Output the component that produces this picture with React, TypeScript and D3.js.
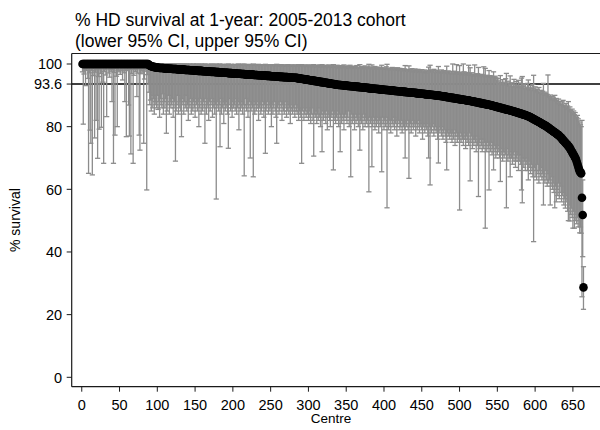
import React from "react";
import * as d3 from "d3";

// Chart text
const TITLE_LINES = ["% HD survival at 1-year: 2005-2013 cohort", "(lower 95% CI, upper 95% CI)"];
const Y_LABEL = "% survival";
const X_LABEL = "Centre";
const X_TICKS = [0, 50, 100, 150, 200, 250, 300, 350, 400, 450, 500, 550, 600, 650];
const Y_TICKS = [0, 20, 40, 60, 80, 100];
const NATIONAL_AVERAGE = 93.6;

// 1-year survival (%) for each centre, ranked from highest to lowest
const SURVIVAL = [
  100, 100, 100, 100, 100, 100, 100, 100, 100, 100, 100,
  100, 100, 100, 100, 100, 100, 100, 100, 100, 100, 100,
  100, 100, 100, 100, 100, 100, 100, 100, 100, 100, 100,
  100, 100, 100, 100, 100, 100, 100, 100, 100, 100, 100,
  100, 100, 100, 100, 100, 100, 100, 100, 100, 100, 100,
  100, 100, 100, 100, 100, 100, 100, 100, 100, 100, 100,
  100, 100, 100, 100, 100, 100, 100, 100, 100, 100, 100,
  100, 100, 100, 100, 100, 100, 100, 100, 100, 100, 100,
  99.7, 99.5, 99.4, 99.3, 99.2, 99.1, 99.1, 99.0, 99.0, 98.9, 98.9, 98.9, 98.8, 98.8,
  98.7, 98.7, 98.7, 98.7, 98.7, 98.7,
  98.6, 98.6, 98.6, 98.6, 98.6,
  98.5, 98.5, 98.5, 98.5, 98.5, 98.5,
  98.4, 98.4, 98.4, 98.4, 98.4, 98.4,
  98.3, 98.3, 98.3, 98.3, 98.3,
  98.2, 98.2, 98.2, 98.2, 98.2, 98.2,
  98.1, 98.1, 98.1, 98.1, 98.1, 98.1,
  98.0, 98.0, 98.0, 98.0, 98.0,
  97.9, 97.9, 97.9, 97.9, 97.9, 97.9,
  97.8, 97.8, 97.8, 97.8, 97.8, 97.8,
  97.7, 97.7, 97.7, 97.7, 97.7,
  97.6, 97.6, 97.6, 97.6, 97.6, 97.6,
  97.5, 97.5, 97.5, 97.5, 97.5, 97.5,
  97.4, 97.4, 97.4, 97.4, 97.4,
  97.3, 97.3, 97.3, 97.3, 97.3, 97.3,
  97.2, 97.2, 97.2, 97.2, 97.2, 97.2,
  97.1, 97.1, 97.1, 97.1, 97.1,
  97.0, 97.0, 97.0, 97.0, 97.0, 97.0,
  96.9, 96.9, 96.9, 96.9, 96.9, 96.9,
  96.8, 96.8, 96.8, 96.8, 96.8,
  96.7, 96.7, 96.7, 96.7, 96.7, 96.7,
  96.6, 96.6, 96.6, 96.6, 96.6, 96.6,
  96.5, 96.5, 96.5, 96.5, 96.5,
  96.4, 96.4, 96.4, 96.4, 96.4, 96.4,
  96.3, 96.3, 96.3, 96.3, 96.3, 96.3,
  96.2, 96.2, 96.2, 96.2, 96.2,
  96.1, 96.1, 96.1, 96.1, 96.1, 96.1,
  96.0, 96.0, 96.0, 96.0, 96.0, 96.0,
  95.9, 95.9, 95.9, 95.9, 95.9,
  95.8, 95.8, 95.8, 95.8, 95.8, 95.8,
  95.7, 95.7, 95.7, 95.7, 95.7, 95.7,
  95.6, 95.6, 95.6, 95.6, 95.6, 95.6,
  95.5, 95.5, 95.4, 95.4, 95.4, 95.3, 95.3, 95.2, 95.2, 95.2, 95.1, 95.1,
  95.0, 95.0, 95.0, 94.9, 94.9, 94.8, 94.8, 94.8, 94.7, 94.7, 94.6, 94.6, 94.6,
  94.5, 94.5, 94.4, 94.4, 94.4, 94.3, 94.3, 94.2, 94.2, 94.2, 94.1, 94.1,
  94.0, 94.0, 94.0, 93.9, 93.9, 93.8, 93.8, 93.8, 93.7, 93.7, 93.6, 93.6, 93.6,
  93.5, 93.5, 93.4, 93.4, 93.4,
  93.3, 93.3, 93.3, 93.3, 93.2, 93.2, 93.2, 93.2, 93.1, 93.1, 93.1, 93.1,
  93.0, 93.0, 93.0, 93.0, 92.9, 92.9, 92.9, 92.9, 92.8, 92.8, 92.8, 92.8,
  92.7, 92.7, 92.7, 92.7, 92.6, 92.6, 92.6, 92.6, 92.5, 92.5, 92.5, 92.5,
  92.4, 92.4, 92.4, 92.3, 92.3, 92.3,
  92.2, 92.2, 92.2, 92.2, 92.1, 92.1, 92.1, 92.1, 92.0, 92.0, 92.0, 92.0,
  91.9, 91.9, 91.9, 91.9, 91.8, 91.8, 91.8, 91.8, 91.7, 91.7, 91.7, 91.7,
  91.6, 91.6, 91.6, 91.6, 91.5, 91.5, 91.5, 91.5, 91.4, 91.4, 91.4, 91.4,
  91.3, 91.3, 91.3, 91.3, 91.2, 91.2, 91.2, 91.2, 91.1, 91.1, 91.1, 91.1,
  91.0, 91.0, 91.0, 91.0,
  90.9, 90.9, 90.9, 90.9, 90.8, 90.8, 90.8, 90.8, 90.7, 90.7, 90.7,
  90.6, 90.6, 90.6, 90.6, 90.5, 90.5, 90.5, 90.5, 90.4, 90.4, 90.4,
  90.3, 90.3, 90.3, 90.3, 90.2, 90.2, 90.2, 90.2, 90.1, 90.1, 90.1,
  90.0, 90.0, 90.0, 90.0, 89.9, 89.9, 89.9,
  89.8, 89.8, 89.8, 89.7, 89.7, 89.6, 89.6, 89.6, 89.5, 89.5,
  89.4, 89.4, 89.4, 89.3, 89.3, 89.2, 89.2, 89.2, 89.1, 89.1,
  89.0, 89.0, 89.0, 88.9, 88.9, 88.8, 88.8, 88.8, 88.7, 88.7,
  88.6, 88.6, 88.6, 88.5, 88.5, 88.4, 88.4, 88.4, 88.3, 88.3,
  88.2, 88.2, 88.1, 88.1, 88.0, 88.0, 87.9, 87.9, 87.8, 87.8, 87.7, 87.7, 87.6,
  87.6, 87.5, 87.5, 87.4, 87.4, 87.3, 87.3, 87.2, 87.2, 87.1, 87.1, 87.0, 87.0,
  86.9, 86.9, 86.8, 86.7, 86.7, 86.6, 86.5, 86.5, 86.4, 86.3, 86.3, 86.2, 86.1, 86.1,
  86.0, 86.0, 85.9, 85.8, 85.8, 85.7, 85.6, 85.6, 85.5, 85.4, 85.4, 85.3, 85.3,
  85.2, 85.1, 85.1, 85.0, 84.9, 84.8, 84.8, 84.7, 84.6, 84.5, 84.5, 84.4, 84.3,
  84.2, 84.2, 84.1, 84.0, 83.9, 83.8, 83.8, 83.7, 83.6, 83.5, 83.4, 83.3, 83.2,
  83.1, 83.0, 82.8, 82.7, 82.6, 82.4, 82.3, 82.2, 82.0, 81.9, 81.8,
  81.6, 81.5, 81.4, 81.2, 81.1, 80.9, 80.8, 80.7, 80.5, 80.4, 80.3,
  80.1, 79.9, 79.7, 79.6, 79.4, 79.2, 79.0, 78.9, 78.7,
  78.5, 78.3, 78.2, 78.0, 77.8, 77.6, 77.5, 77.3, 77.1,
  76.8, 76.6, 76.3, 76.0, 75.7, 75.5, 75.2, 74.9, 74.6, 74.4, 74.1, 73.8, 73.6,
  73.1, 72.7, 72.3, 71.8, 71.4, 71.0, 70.6, 70.1, 69.7,
  68.9, 68.1, 67.3, 66.5, 65.8, 65.4,
  65.1, 57.3, 51.8, 28.7,
];

// Lower 95% confidence limit for each centre (same order)
const LOWER = [
  97.5, 80.8, 96.8, 98.2, 93.1, 97.9, 98.5, 95.4, 65.1, 97.2,
  78.9, 74.7, 98.0, 64.6, 96.3, 98.6, 76.4, 97.4, 82.0, 98.1,
  69.9, 96.0, 79.2, 98.4, 97.0, 79.8, 98.8, 94.2, 68.3, 97.6,
  98.3, 96.5, 83.2, 98.7, 97.1, 98.9, 95.8, 98.2, 97.7, 88.0,
  98.5, 68.3, 97.3, 77.3, 98.6, 96.1, 80.0, 98.0, 97.5, 98.9,
  96.7, 98.4, 97.8, 94.9, 98.6, 97.2, 88.0, 98.1, 76.8, 97.9,
  98.5, 86.9, 77.0, 98.3, 71.3, 97.0, 98.7, 68.3, 96.4, 98.2,
  97.6, 98.8, 89.6, 97.1, 98.4, 77.3, 72.5, 96.9, 98.0, 97.4,
  98.6, 74.7, 95.2, 98.3, 97.7, 59.8, 96.6, 93.5,
  91, 87, 88.5, 85, 90, 86, 89, 84, 88, 87,
  86, 90, 85.5, 88, 83, 89, 87, 86, 90.5, 84,
  88, 86, 89, 77.9, 85, 87, 90, 84, 88, 86,
  87, 89, 83, 86, 88, 69, 85, 87, 90, 84,
  86, 88, 85, 76.8, 89, 87, 84, 88, 86, 90,
  85, 87, 82, 88, 86, 89, 84, 87, 85, 88,
  86, 83, 89, 87, 85, 88, 80, 86, 89, 84,
  87, 85, 88, 86, 74.7, 89, 84, 87, 86, 82,
  88, 85, 87, 89, 83, 86, 88, 84, 87, 56.9,
  86, 88, 85, 87, 73.6, 89, 84, 86, 88, 81,
  87, 85, 88, 86, 84, 73.1, 87, 89, 85, 86,
  83, 88, 86, 87, 85, 89, 84, 86, 88, 79,
  87, 85, 86, 88, 84, 87, 64.3, 86, 89, 85,
  87, 83, 86, 88, 70, 85, 87, 86, 64, 88,
  84, 87, 85, 86, 88, 82, 86, 87, 84, 85,
  88, 86, 83, 87, 71.5, 85, 86, 88, 84, 87,
  85, 86, 80, 87, 84, 86, 88, 85, 83, 74.7,
  86, 87, 84, 85, 88, 86, 82, 87, 85, 84,
  86, 88, 83, 85, 87, 84, 86, 81, 85, 87,
  84, 86, 85, 83, 87, 85, 84, 86, 82, 85,
  84, 83, 68.3, 85, 86, 82, 84, 85, 83, 86,
  84, 82, 85, 83, 81, 84, 86, 82, 70.6, 84,
  83, 85, 81, 84, 82, 86, 83, 80, 84, 72,
  85, 82, 84, 83, 81, 85, 79, 83, 84, 82,
  80, 84, 83, 85, 66.2, 82, 84, 81, 83, 85,
  82, 80, 84, 72, 83, 81, 84, 82, 79, 83,
  84, 82, 81, 83, 85, 80, 82, 64, 84, 81,
  83, 82, 79, 84, 81, 83, 82, 80, 84, 72.5,
  82, 81, 83, 79, 84, 82, 80, 83, 81, 82,
  80, 59.2, 83, 81, 82, 67.2, 80, 83, 81, 79,
  82, 80, 83, 81, 78, 82, 80, 81, 65.6, 83,
  81, 79, 82, 80, 83, 54.1, 81, 79, 82, 80,
  78, 82, 81, 80, 83, 79, 81, 82, 77, 80,
  82, 81, 79, 80, 82, 78, 81, 80, 79, 70,
  81, 80, 82, 79, 63.5, 80, 81, 78, 80, 82,
  79, 81, 80, 77, 81, 79, 80, 82, 78, 80,
  81, 79, 76, 80, 81, 78, 80, 79, 81, 77,
  70, 80, 61.4, 79, 78, 80, 81, 77, 79, 80,
  78, 79, 76, 68.4, 80, 78, 79, 77, 80, 76,
  78, 79, 77, 75, 66.2, 78, 77, 79, 76, 78,
  77, 75, 78, 76, 79, 74, 77, 78, 75, 77,
  76, 53.4, 78, 75, 77, 76, 74, 78, 76, 73,
  77, 75, 76, 74, 78, 62.7, 75, 77, 73, 76,
  74, 76, 75, 72, 77, 74, 57.7, 75, 73, 76,
  74, 72, 76, 73, 75, 47.6, 74, 72, 75, 73,
  59.8, 74, 72, 75, 71, 73, 66.2, 74, 72, 70,
  73, 71, 74, 72, 70, 62.5, 73, 71, 69, 72,
  70, 72, 71, 54.1, 73, 69, 71, 70, 64, 72,
  70, 68, 71, 69, 72, 67, 70, 69, 71, 66,
  69, 71, 68, 59.8, 55.7, 70, 67, 69, 66, 70,
  68, 66, 63, 69, 67, 65, 68, 66, 64, 43.3,
  67, 64, 66, 63, 68, 65, 62, 66, 64, 67,
  63, 65, 55, 64, 62, 66, 63, 61, 65, 62,
  63, 55, 61, 64, 60, 62, 59, 54.1, 61, 56,
  60, 58, 62, 57, 59, 61, 56, 58, 59, 55,
  57, 54, 58, 56, 53, 50, 55, 49.9, 52, 54,
  51, 47.6, 53, 47.6, 50, 52, 49, 51, 48, 50,
  46.1, 48, 46, 25.7, 38.5, 21.7,
];

// Upper 95% confidence limit for each centre (same order)
const UPPER = [
  100, 100, 100, 100, 100, 100, 100, 100, 100, 100, 100,
  100, 100, 100, 100, 100, 100, 100, 100, 100, 100, 100,
  100, 100, 100, 100, 100, 100, 100, 100, 100, 100, 100,
  100, 100, 100, 100, 100, 100, 100, 100, 100, 100, 100,
  100, 100, 100, 100, 100, 100, 100, 100, 100, 100, 100,
  100, 100, 100, 100, 100, 100, 100, 100, 100, 100, 100,
  100, 100, 100, 100, 100, 100, 100, 100, 100, 100, 100,
  100, 100, 100, 100, 100, 100, 100, 100, 100, 100, 100,
  100, 100, 100, 100, 99.9, 100, 100, 99.9, 100, 100,
  100, 99.9, 100, 100, 99.8, 100, 100, 99.9, 100, 99.8,
  100, 99.9, 100, 99.8, 100, 99.9, 100, 99.7, 99.9, 100,
  99.8, 100, 99.9, 100, 99.7, 99.9, 100, 99.8, 99.9, 100,
  99.9, 100, 99.7, 99.9, 100, 99.8, 99.9, 100, 99.7, 99.9,
  100, 99.8, 99.9, 99.7, 100, 99.9, 99.8, 99.6, 99.9, 100,
  99.8, 99.9, 99.7, 100, 99.8, 99.9, 99.6, 99.9, 99.8, 100,
  99.7, 99.9, 99.8, 99.6, 100, 99.9, 99.7, 99.8, 99.9, 99.6,
  99.8, 99.9, 99.7, 100, 99.6, 99.8, 99.9, 99.7, 99.8, 100,
  99.7, 99.8, 99.6, 99.9, 100, 99.7, 99.8, 99.6, 99.9, 99.7,
  99.8, 99.6, 99.9, 99.7, 99.8, 100, 99.6, 99.8, 99.7, 99.9,
  99.6, 99.8, 99.7, 99.9, 99.5, 99.8, 99.7, 99.6, 99.9, 100,
  99.7, 99.5, 99.8, 99.6, 99.9, 99.7, 100, 99.6, 99.8, 99.5,
  99.7, 99.8, 99.6, 99.9, 99.8, 99.5, 99.7, 99.6, 100, 99.8,
  99.6, 99.7, 99.5, 99.8, 99.6, 99.9, 99.7, 99.5, 99.8, 99.6,
  99.7, 99.5, 99.8, 99.6, 99.9, 99.7, 99.4, 99.6, 99.8, 99.5,
  99.6, 99.8, 99.5, 99.7, 99.4, 99.6, 99.8, 99.5, 99.7, 99.9,
  99.5, 99.6, 99.4, 99.7, 99.5, 99.8, 99.6, 99.3, 99.6, 99.5,
  99.7, 99.4, 99.6, 99.5, 99.8, 99.4, 99.6, 99.5, 99.3, 99.7,
  99.5, 99.6, 99.4, 99.7, 99.3, 99.5, 99.6, 99.4, 99.8, 99.5,
  99.4, 99.6, 99.8, 99.3, 99.5, 99.4, 99.7, 99.2, 99.5, 99.6,
  99.3, 99.5, 99.7, 99.2, 99.4, 99.6, 99.1, 99.5, 99.8, 99.3,
  99.4, 99.2, 99.6, 99.0, 99.5, 99.3, 99.7, 99.1, 99.4, 99.8,
  99.2, 99.5, 99.0, 99.3, 99.6, 98.9, 99.4, 99.2, 99.7, 99.0,
  99.3, 99.5, 98.9, 99.2, 99.8, 99.0, 99.4, 98.8, 99.3, 99.6,
  99.0, 99.3, 98.8, 99.5, 99.1, 98.9, 99.4, 99.0, 99.7, 98.8,
  99.2, 99.0, 98.7, 99.4, 99.1, 98.9, 99.6, 98.8, 99.2, 99.0,
  98.7, 99.3, 98.9, 99.1, 98.6, 99.5, 98.8, 99.0, 98.7, 99.8,
  98.9, 98.6, 99.2, 98.8, 99.0, 98.5, 99.4, 98.7, 98.9, 98.6,
  99.1, 99.9, 98.7, 98.5, 99.0, 99.7, 98.6, 98.8, 98.4, 99.2,
  98.7, 98.5, 98.9, 98.3, 98.6, 99.0, 98.4, 98.7, 99.6, 98.5,
  98.8, 98.3, 98.6, 98.4, 99.1, 99.9, 98.5, 98.2, 98.7, 98.4,
  98.6, 98.2, 98.9, 98.4, 98.1, 98.7, 98.3, 98.5, 98.0, 98.8,
  98.3, 98.0, 98.6, 98.2, 97.9, 98.5, 98.1, 97.8, 98.4, 99.5,
  98.0, 97.7, 98.3, 97.9, 99.4, 97.6, 98.2, 97.8, 98.5, 97.5,
  98.1, 97.7, 98.4, 97.4, 98.0, 97.6, 98.3, 97.5, 97.9, 97.3,
  97.8, 98.2, 97.4, 97.7, 97.2, 98.1, 97.5, 97.8, 97.1, 97.6,
  99.0, 97.9, 99.6, 97.6, 98.1, 97.4, 97.9, 98.3, 97.3, 97.8,
  98.0, 97.3, 97.8, 99.2, 97.2, 97.7, 97.4, 98.1, 97.1, 97.6,
  97.4, 97.9, 97.0, 97.5, 99.3, 97.2, 97.8, 96.9, 97.5, 97.1,
  97.6, 96.9, 100, 97.0, 97.7, 96.8, 97.3, 99.8, 97.5, 96.7,
  97.2, 99.5, 96.9, 97.4, 96.6, 97.1, 100, 97.5, 96.5, 97.0,
  96.8, 97.3, 96.4, 99.6, 96.9, 98.8, 96.6, 97.2, 96.3, 96.8,
  96.5, 99.7, 96.2, 96.7, 96.4, 96.9, 98.9, 96.1, 96.6, 96.3,
  96.7, 96.0, 96.5, 99.1, 96.2, 98.6, 95.9, 96.4, 96.1, 95.8,
  97.9, 96.3, 95.9, 96.2, 95.7, 96.0, 97.5, 95.8, 96.1, 95.6,
  94.9, 95.4, 93.8, 94.6, 93.5, 96.3, 94.1, 93.7, 95.0, 93.4,
  94.2, 93.6, 95.3, 97.0, 93.2, 94.5, 93.9, 92.9, 96.2, 93.5,
  94.0, 92.8, 93.6, 95.1, 92.6, 93.3, 94.4, 92.5, 93.0, 94.8,
  92.7, 93.9, 92.4, 95.5, 96.0, 92.9, 93.4, 92.2, 93.7, 92.0,
  92.6, 93.8, 94.9, 91.8, 92.4, 93.1, 91.6, 92.2, 93.5, 96.4,
  91.5, 92.7, 91.2, 92.0, 91.8, 90.9, 92.5, 91.1, 90.7, 91.6,
  90.5, 91.3, 93.8, 90.2, 91.0, 90.6, 89.9, 90.3, 96.5, 89.7,
  89.4, 90.1, 88.9, 89.6, 88.5, 89.2, 88.7, 90.0, 88.3, 89.0,
  88.1, 87.6, 88.8, 87.3, 88.0, 87.1, 86.8, 87.9, 88.4, 86.5,
  86.9, 86.2, 87.4, 85.8, 86.6, 88.0, 85.5, 86.3, 85.1, 84.7,
  85.6, 84.2, 85.0, 83.8, 84.5, 83.4, 82.9, 83.6, 82.5, 81.8,
  81.2, 80.6, 80.0, 82.0, 63.0, 35.3,
];

const centres = SURVIVAL.map((value, i) => ({
  rank: i + 1,
  value,
  lower: LOWER[i],
  upper: UPPER[i],
}));

// Layout of the plot region (pixels)
const WIDTH = 600;
const HEIGHT = 430;
const AXIS_LEFT = 71.7;
const AXIS_BOTTOM = 386.7;
const FRAME_TOP = 53.5;
const FRAME_RIGHT = 600;

const FONT = "'Liberation Sans', Arial, Helvetica, sans-serif";
const BAR_COLOR = "#8c8c8c";
const AXIS_COLOR = "#1a1a1a";

export default function App() {
  const x = d3.scaleLinear().domain([0, 650]).range([81.75, 572.9]);
  const y = d3.scaleLinear().domain([0, 100]).range([377.3, 64]);
  const capHalf = 2.6;

  return (
    <div style={{ position: "fixed", left: 0, top: 0 }}>
      <svg width={WIDTH} height={HEIGHT} style={{ display: "block", background: "#fff" }}>
        {/* title */}
        <text x={75} y={26} fontFamily={FONT} fontSize={17.5} fill="#000">
          {TITLE_LINES[0]}
        </text>
        <text x={75} y={46.5} fontFamily={FONT} fontSize={17.5} fill="#000">
          {TITLE_LINES[1]}
        </text>

        {/* plot frame */}
        <line x1={AXIS_LEFT} x2={FRAME_RIGHT} y1={FRAME_TOP} y2={FRAME_TOP} stroke={AXIS_COLOR} strokeWidth={1} />

        {/* national average reference line */}
        <line
          x1={AXIS_LEFT}
          x2={FRAME_RIGHT}
          y1={y(NATIONAL_AVERAGE)}
          y2={y(NATIONAL_AVERAGE)}
          stroke="#000"
          strokeWidth={1.4}
        />

        {/* confidence intervals */}
        <g stroke={BAR_COLOR} strokeWidth={1.3} fill="none">
          {centres.map((d) =>
            d.lower == null || d.upper == null ? null : (
              <g key={d.rank}>
                <line x1={x(d.rank)} x2={x(d.rank)} y1={y(d.lower)} y2={y(d.upper)} />
                <line x1={x(d.rank) - capHalf} x2={x(d.rank) + capHalf} y1={y(d.lower)} y2={y(d.lower)} />
                <line x1={x(d.rank) - capHalf} x2={x(d.rank) + capHalf} y1={y(d.upper)} y2={y(d.upper)} />
              </g>
            )
          )}
        </g>

        {/* point estimates */}
        <g fill="#000">
          {centres.map((d) => (
            <circle key={d.rank} cx={x(d.rank)} cy={y(d.value)} r={4.3} />
          ))}
        </g>

        {/* y axis */}
        <line x1={AXIS_LEFT} x2={AXIS_LEFT} y1={FRAME_TOP} y2={AXIS_BOTTOM} stroke={AXIS_COLOR} strokeWidth={1.2} />
        {[...Y_TICKS, NATIONAL_AVERAGE].map((t) => (
          <g key={"y" + t}>
            <line x1={AXIS_LEFT - 5} x2={AXIS_LEFT} y1={y(t)} y2={y(t)} stroke={AXIS_COLOR} strokeWidth={1} />
            <text
              x={AXIS_LEFT - 9.5}
              y={y(t)}
              dy="0.36em"
              textAnchor="end"
              fontFamily={FONT}
              fontSize={14.5}
              fill="#000"
            >
              {t}
            </text>
          </g>
        ))}
        <text
          transform={`translate(20, ${(FRAME_TOP + AXIS_BOTTOM) / 2}) rotate(-90)`}
          textAnchor="middle"
          fontFamily={FONT}
          fontSize={14}
          fill="#000"
        >
          {Y_LABEL}
        </text>

        {/* x axis */}
        <line x1={AXIS_LEFT} x2={FRAME_RIGHT} y1={AXIS_BOTTOM} y2={AXIS_BOTTOM} stroke={AXIS_COLOR} strokeWidth={1.2} />
        {X_TICKS.map((t) => (
          <g key={"x" + t}>
            <line x1={x(t)} x2={x(t)} y1={AXIS_BOTTOM} y2={AXIS_BOTTOM + 5} stroke={AXIS_COLOR} strokeWidth={1} />
            <text x={x(t)} y={AXIS_BOTTOM + 23.5} textAnchor="middle" fontFamily={FONT} fontSize={14.5} fill="#000">
              {t}
            </text>
          </g>
        ))}
        <text x={331} y={423} textAnchor="middle" fontFamily={FONT} fontSize={13.5} fill="#000">
          {X_LABEL}
        </text>
      </svg>
    </div>
  );
}
